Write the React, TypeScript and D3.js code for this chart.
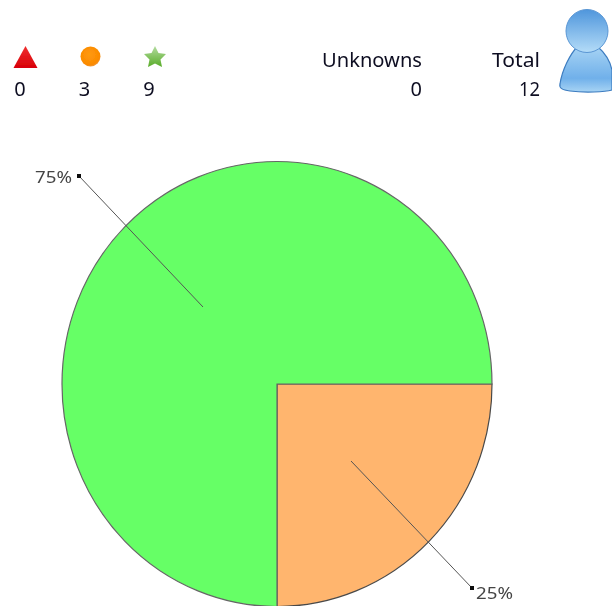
import React from "react";
import * as d3 from "d3";

const categories = ["Medium", "Low"];
const pieValues = [3, 9];
const legendValues = [0, 3, 9];
const unknowns = 0;
const total = 12;
const pieColors = ["#ffb56e", "#66ff66"];
const labelAnchors = [
  { from: [351, 461], to: [472, 588], text: [476, 599], anchor: "start" },
  { from: [203, 307], to: [79, 176], text: [72, 183], anchor: "end" },
];

const W = 612, H = 606;
const cx = 277, cy = 384, rx = 215, ry = 222.5;
const uiFont = "'Noto Sans', sans-serif";

export default function App() {
  const arcs = d3.pie<number>().sort(null).startAngle(Math.PI / 2).endAngle(Math.PI * 2.5)(pieValues);
  const arc = d3.arc<d3.PieArcDatum<number>>().innerRadius(0).outerRadius(1);
  const sum = d3.sum(pieValues);
  const xLeg = d3.scalePoint<number>().domain([0, 1, 2]).range([20, 149]);
  return (
    <svg width={W} height={H} viewBox={`0 0 ${W} ${H}`} style={{ position: "fixed", left: 0, top: 0, display: "block" }}>
      <defs>
        <filter id="soft" filterUnits="userSpaceOnUse" x="0" y="0" width={W} height={H}><feGaussianBlur stdDeviation="0.7" /></filter>
        <linearGradient id="tri" x1="0" y1="0" x2="0" y2="1"><stop offset="0" stopColor="#f03030" /><stop offset="1" stopColor="#d80008" /></linearGradient>
        <radialGradient id="org" cx="0.45" cy="0.4" r="0.65"><stop offset="0" stopColor="#ff9a10" /><stop offset="0.8" stopColor="#fb8a00" /><stop offset="1" stopColor="#e8a060" /></radialGradient>
        <linearGradient id="star" x1="0" y1="0" x2="0" y2="1"><stop offset="0" stopColor="#b4dca0" /><stop offset="1" stopColor="#58ac28" /></linearGradient>
        <linearGradient id="head" x1="0" y1="0" x2="0" y2="1"><stop offset="0" stopColor="#4f96dc" /><stop offset="1" stopColor="#b4dcf8" /></linearGradient>
        <linearGradient id="body" x1="0" y1="0" x2="0" y2="1"><stop offset="0" stopColor="#a8d4f4" /><stop offset="0.7" stopColor="#70b0ea" /><stop offset="1" stopColor="#a8d4f4" /></linearGradient>
      </defs>
      <g filter="url(#soft)">
        <path d="M25.5 46 L37.5 68 L13.5 68 Z" fill="url(#tri)" />
        <circle cx="90.5" cy="56.5" r="10" fill="url(#org)" />
        <path d="M155 46 L158.5 53 L166 54 L160.5 59.5 L162 67 L155 63.5 L148 67 L149.5 59.5 L144 54 L151.5 53 Z" fill="url(#star)" />
        <path d="M578 46 C570 54 562 70 560 84 C559 88 562 90 570 91 C585 93 605 92 612 90 L612 70 C610 60 604 52 597 46 Z" fill="url(#body)" stroke="#3c7cc0" strokeWidth="1.2" />
        <ellipse cx="587" cy="31" rx="21" ry="21.5" fill="url(#head)" stroke="#5a96d4" strokeWidth="1" />

        {arcs.map((d, i) => (
          <path key={categories[i]} d={arc(d) ?? ""} transform={`translate(${cx},${cy}) scale(${rx},${ry})`}
            fill={pieColors[i]} stroke={i === 0 ? "#4a4a4a" : "#666"} strokeWidth="1.2" vectorEffect="non-scaling-stroke" />
        ))}
        {arcs.map((d, i) => {
          const a = labelAnchors[i];
          return (
            <g key={i}>
              <line x1={a.from[0]} y1={a.from[1]} x2={a.to[0]} y2={a.to[1]} stroke="#555" strokeWidth="1" />
              <rect x={a.to[0] - 2} y={a.to[1] - 2} width="4" height="4" fill="#111" />
              <text x={a.text[0]} y={a.text[1]} textAnchor={a.anchor as any} fontFamily={uiFont} fontSize="17" fill="#444" textLength={37} lengthAdjust="spacingAndGlyphs">
                {d3.format(".0%")(d.value / sum)}
              </text>
            </g>
          );
        })}
        {legendValues.map((v, i) => (
          <text key={i} x={xLeg(i)} y={96} textAnchor="middle" fontFamily={uiFont} fontSize="20" fill="#112">{v}</text>
        ))}
        <text x={422} y={67} textAnchor="end" fontFamily={uiFont} fontSize="20" fill="#112" textLength={100} lengthAdjust="spacingAndGlyphs">Unknowns</text>
        <text x={422} y={96} textAnchor="end" fontFamily={uiFont} fontSize="20" fill="#112">{unknowns}</text>
        <text x={540} y={67} textAnchor="end" fontFamily={uiFont} fontSize="20" fill="#112" textLength={48} lengthAdjust="spacingAndGlyphs">Total</text>
        <text x={540} y={96} textAnchor="end" fontFamily={uiFont} fontSize="20" fill="#112" textLength={21} lengthAdjust="spacingAndGlyphs">{total}</text>
      </g>
    </svg>
  );
}
